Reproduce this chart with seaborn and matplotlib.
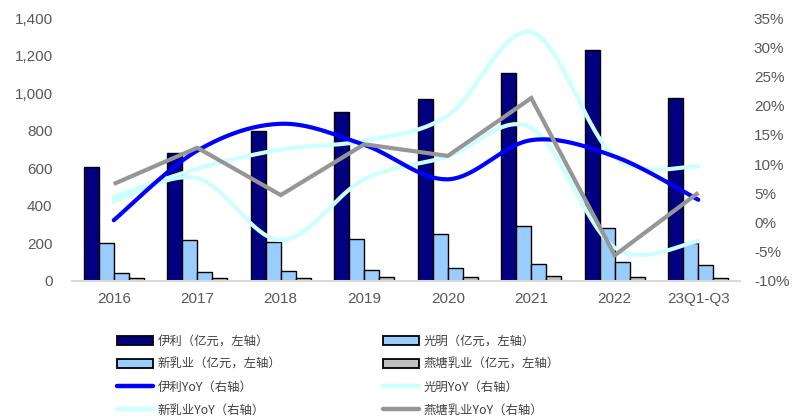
import numpy as np
import pandas as pd
import matplotlib
matplotlib.use("Agg")
import matplotlib.pyplot as plt
import seaborn as sns
from matplotlib.patches import Patch
from matplotlib.lines import Line2D
from matplotlib.ticker import FuncFormatter, MultipleLocator

# ---------------- data ----------------
years = ['2016', '2017', '2018', '2019', '2020', '2021', '2022', '23Q1-Q3']
yili_rev = [606, 680, 796, 902, 969, 1106, 1231, 976]
bright_rev = [202, 217, 210, 226, 252, 292, 282, 202]
newhope_rev = [43, 48, 52, 57, 70, 90, 100, 84]
yantang_rev = [18, 18, 18, 19, 21, 24, 22, 15]

yili_yoy = [0.4, 12.3, 16.9, 13.3, 7.4, 14.1, 11.3, 3.9]
bright_yoy = [3.6, 7.6, -3.0, 7.4, 11.3, 16.2, -4.3, -3.2]
newhope_yoy = [4.4, 9.2, 12.5, 14.0, 18.3, 32.6, 11.2, 9.6]
yantang_yoy = [6.6, 12.8, 4.7, 13.4, 11.4, 21.3, -5.6, 5.1]

bar_labels = ['伊利（亿元，左轴）', '光明（亿元，左轴）', '新乳业（亿元，左轴）', '燕塘乳业（亿元，左轴）']
line_labels = ['伊利YoY（右轴）', '光明YoY（右轴）', '新乳业YoY（右轴）', '燕塘乳业YoY（右轴）']

bar_colors = ['#000080', '#99CCFF', '#99CCFF', '#C0C0C0']
line_colors = ['#0000FF', '#CCFFFF', '#CCFFFF', '#969696']

# ---------------- style ----------------
sns.set_style('white')
plt.rcParams['font.family'] = ['Liberation Sans', 'Noto Sans CJK SC', 'DejaVu Sans']
TICK_C = '#595959'

fig = plt.figure(figsize=(7.94, 4.18), dpi=100)
ax = fig.add_axes([72 / 794, 1 - 281 / 418, (740 - 72) / 794, (281 - 18) / 418])

df = pd.DataFrame({
    'year': years * 4,
    'value': yili_rev + bright_rev + newhope_rev + yantang_rev,
    'company': sum([[lab] * len(years) for lab in bar_labels], []),
})
sns.barplot(data=df, x='year', y='value', hue='company', order=years,
            hue_order=bar_labels, palette=bar_colors, width=0.72, gap=0,
            edgecolor='black', linewidth=1.0, saturation=1, ax=ax, legend=False)

ax.set_xlim(-0.5, len(years) - 0.5)
ax.set_ylim(0, 1400)
ax.yaxis.set_major_locator(MultipleLocator(200))
ax.yaxis.set_major_formatter(FuncFormatter(lambda v, p: f'{int(v):,}'))
ax.set_xlabel('')
ax.set_ylabel('')
for s in ['top', 'right', 'left']:
    ax.spines[s].set_visible(False)
ax.spines['bottom'].set_color('#D9D9D9')
ax.spines['bottom'].set_linewidth(1.5)
ax.tick_params(axis='y', length=0, pad=14, labelsize=11, labelcolor=TICK_C)
ax.tick_params(axis='x', length=0, pad=8, labelsize=11, labelcolor=TICK_C)
ax.grid(False)

ax2 = ax.twinx()
ax2.set_ylim(-0.10, 0.35)
ax2.yaxis.set_major_locator(MultipleLocator(0.05))
ax2.yaxis.set_major_formatter(FuncFormatter(lambda v, p: f'{round(v * 100):d}%'))
for s in ['top', 'right', 'left', 'bottom']:
    ax2.spines[s].set_visible(False)
ax2.tick_params(axis='y', length=0, pad=10, labelsize=11, labelcolor=TICK_C)
ax2.grid(False)


def smooth(xs, ys, n=40):
    pts = np.column_stack([xs, ys]).astype(float)
    P = np.vstack([pts[0], pts, pts[-1]])
    out = []
    t = np.linspace(0, 1, n)[:, None]
    for i in range(len(pts) - 1):
        p0, p1, p2, p3 = P[i], P[i + 1], P[i + 2], P[i + 3]
        c1 = p1 + (p2 - p0) / 6
        c2 = p2 - (p3 - p1) / 6
        seg = (1 - t) ** 3 * p1 + 3 * (1 - t) ** 2 * t * c1 + 3 * (1 - t) * t ** 2 * c2 + t ** 3 * p2
        out.append(seg if i == 0 else seg[1:])
    return np.vstack(out)


xs = np.arange(len(years))
lw = 3.0
for vals, col in [(bright_yoy, line_colors[1]), (newhope_yoy, line_colors[2]), (yili_yoy, line_colors[0])]:
    c = smooth(xs, np.array(vals) / 100)
    ax2.plot(c[:, 0], c[:, 1], color=col, lw=lw, solid_capstyle='round', zorder=3)
ax2.plot(xs, np.array(yantang_yoy) / 100, color=line_colors[3], lw=lw,
         solid_capstyle='butt', solid_joinstyle='miter', zorder=4)

# ---------------- legend ----------------
def bar_h(c):
    return Patch(facecolor=c, edgecolor='black', linewidth=1.3)

def line_h(c):
    return Line2D([0], [0], color=c, lw=3.2, solid_capstyle='round')

# column-major order for ncol=2
handles = [bar_h(bar_colors[0]), bar_h(bar_colors[2]), line_h(line_colors[0]), line_h(line_colors[2]),
           bar_h(bar_colors[1]), bar_h(bar_colors[3]), line_h(line_colors[1]), line_h(line_colors[3])]
labels = [bar_labels[0], bar_labels[2], line_labels[0], line_labels[2],
          bar_labels[1], bar_labels[3], line_labels[1], line_labels[3]]
leg = fig.legend(handles, labels, ncol=2, loc='upper left',
                 bbox_to_anchor=(117 / 794, 1 - 335 / 418), frameon=False,
                 prop={'family': ['Noto Sans CJK SC', 'DejaVu Sans'], 'size': 8.9},
                 labelcolor='#404040', handlelength=2.9, handleheight=0.75,
                 handletextpad=0.4, columnspacing=8.2, labelspacing=0.8,
                 borderpad=0, borderaxespad=0)

fig.savefig('out.png', dpi=100)
